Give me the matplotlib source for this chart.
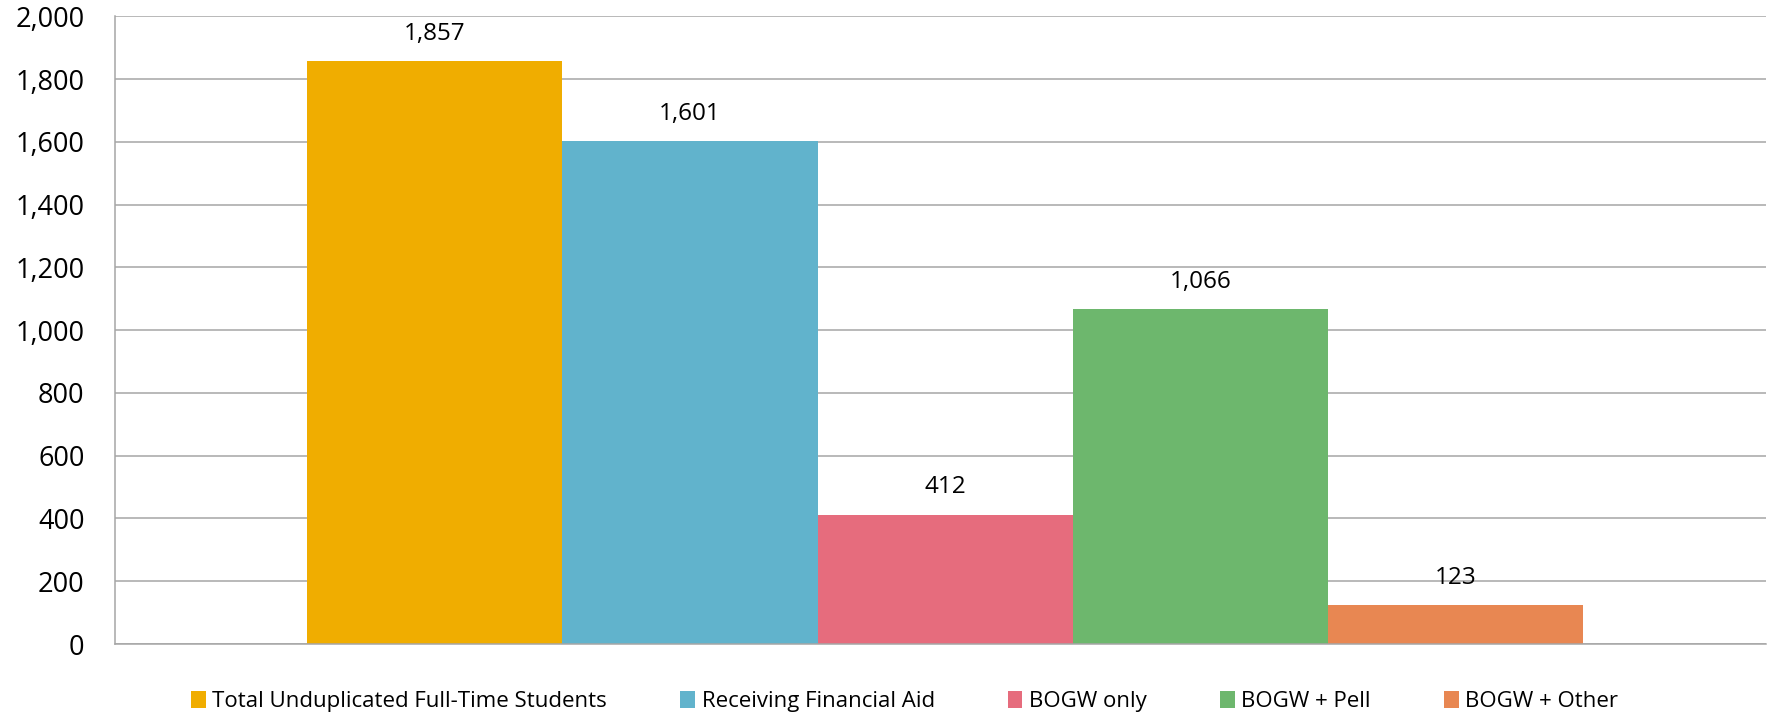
import matplotlib as mpl
mpl.use('Agg')
import matplotlib.pyplot as plt
from matplotlib.patches import Patch

categories = ["Total Unduplicated Full-Time Students", "Receiving Financial Aid",
              "BOGW only", "BOGW + Pell", "BOGW + Other"]
values = [1857, 1601, 412, 1066, 123]
colors = ["#F0AD00", "#61B3CC", "#E66C7D", "#6DB76D", "#E88752"]
yticks = [0, 200, 400, 600, 800, 1000, 1200, 1400, 1600, 1800, 2000]

plt.rcParams['font.family'] = ['Open Sans', 'DejaVu Sans']
grid_col = "#A6A6A6"

fig = plt.figure(figsize=(17.81, 7.15), dpi=100)
ax = fig.add_axes([0.0646, 0.0993, 0.927, 0.878])

xs = list(range(len(values)))
bars = ax.bar(xs, values, width=1.0, color=colors, zorder=2)
for x, v in zip(xs, values):
    ax.annotate(f"{v:,}", (x, v), xytext=(0, 11), textcoords='offset points',
                ha='center', va='bottom', fontsize=17.5, color='black')

ax.set_xlim(-1.252, 5.216)
ax.set_ylim(0, 2000)
ax.set_yticks(yticks)
ax.set_yticklabels([f"{t:,}" for t in yticks], fontsize=19.5, color='black')
ax.set_xticks([])
ax.tick_params(axis='y', length=0, pad=22)
ax.yaxis.grid(True, color=grid_col, linewidth=1.1, zorder=0)
ax.set_axisbelow(True)
for s in ['top', 'right']:
    ax.spines[s].set_visible(False)
ax.spines['left'].set_color(grid_col)
ax.spines['bottom'].set_color(grid_col)
ax.spines['left'].set_linewidth(1.1)
ax.spines['bottom'].set_linewidth(1.1)

handles = [Patch(facecolor=c, label=l) for c, l in zip(colors, categories)]
fig.legend(handles=handles, loc='lower center', bbox_to_anchor=(0.508, -0.024),
           ncol=5, frameon=False, fontsize=16, handlelength=0.65, handleheight=0.75,
           handletextpad=0.3, columnspacing=3.3)

fig.savefig("out.png", dpi=100)
